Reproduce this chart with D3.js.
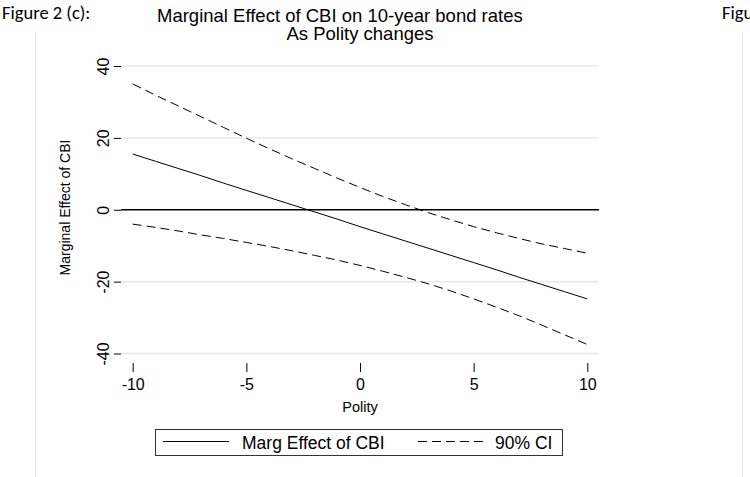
<!DOCTYPE html>
<html>
<head>
<meta charset="utf-8">
<script src="https://cdn.jsdelivr.net/npm/d3@7"></script>
<style>
  html, body { margin: 0; padding: 0; background: #fff; }
  svg { display: block; }
  text { fill: #000; }
</style>
</head>
<body>
<svg id="chart" width="750" height="477"></svg>
<script>
// Polity scores at which the marginal effect was evaluated
const polity = [-10, -9, -8, -7, -6, -5, -4, -3, -2, -1, 0, 1, 2, 3, 4, 5, 6, 7, 8, 9, 10];
// Marginal effect of CBI on 10-year bond rates
const margEffect = [15.5, 13.5, 11.5, 9.5, 7.4, 5.4, 3.4, 1.4, -0.6, -2.6, -4.7, -6.7, -8.7, -10.7, -12.7, -14.7, -16.7, -18.8, -20.8, -22.8, -24.8];
// 90% confidence bounds
const ciUpper = [35.0, 31.9, 28.9, 25.9, 22.9, 19.9, 17.0, 14.2, 11.5, 8.8, 6.2, 3.7, 1.4, -0.8, -2.8, -4.7, -6.4, -8.0, -9.5, -10.8, -12.1];
const ciLower = [-4.0, -4.9, -5.9, -7.0, -8.0, -9.1, -10.2, -11.4, -12.7, -14.0, -15.5, -17.1, -18.8, -20.6, -22.6, -24.8, -27.1, -29.5, -32.1, -34.8, -37.5];
// Axis ticks
const xTicks = [-10, -5, 0, 5, 10];
const yTicks = [-40, -20, 0, 20, 40];
const legendLabels = ["Marg Effect of CBI", "90% CI"];

const svg = d3.select("#chart");
const sans = "'Liberation Sans', Arial, Helvetica, sans-serif";
const plain = d => String(d);   // hyphen-minus, as in the printed figure

const x = d3.scaleLinear().domain([-10, 10]).range([132.7, 587.3]);
const y = d3.scaleLinear().domain([-40, 40]).range([353.5, 66]);
const plotLeft = 121, plotRight = 599;

// Page frame lines of the surrounding document
svg.append("line").attr("x1", 35.5).attr("x2", 35.5).attr("y1", 33).attr("y2", 477)
  .attr("stroke", "#e6e6e6").attr("stroke-width", 1);
svg.append("line").attr("x1", 742.5).attr("x2", 742.5).attr("y1", 33).attr("y2", 477)
  .attr("stroke", "#e6e6e6").attr("stroke-width", 1);

// Figure captions
svg.append("text").attr("x", 2).attr("y", 18.5)
  .style("font-family", "Carlito, Lato, 'Open Sans', sans-serif").style("font-size", "18.5px")
  .text("Figure 2 (c):");
svg.append("text").attr("x", 722).attr("y", 18.5)
  .style("font-family", "Carlito, Lato, 'Open Sans', sans-serif").style("font-size", "18.5px")
  .text("Figu");

// Title (first line carries Stata's trailing padding, so it sits left of centre)
const title = svg.append("g").style("font-family", sans).style("font-size", "18.5px");
title.append("text").attr("x", 157).attr("y", 22).text("Marginal Effect of CBI on 10-year bond rates");
title.append("text").attr("x", 360).attr("y", 39.5).attr("text-anchor", "middle").text("As Polity changes");

// Horizontal grid lines
svg.append("g").selectAll("line").data(yTicks.filter(d => d !== 0)).join("line")
  .attr("x1", plotLeft).attr("x2", plotRight)
  .attr("y1", d => y(d)).attr("y2", d => y(d))
  .attr("stroke", "#e8e8e8").attr("stroke-width", 1.5);

// Y axis: ticks and rotated labels
const yAxis = d3.axisLeft(y).tickValues(yTicks).tickSize(7).tickPadding(6).tickFormat(plain);
const gy = svg.append("g").attr("transform", `translate(${plotLeft},0)`).call(yAxis);
gy.select(".domain").remove();
gy.selectAll(".tick line").attr("stroke", "#000").attr("stroke-width", 1);
gy.selectAll(".tick text")
  .attr("x", null).attr("dy", null)
  .attr("transform", "translate(-12,0) rotate(-90)")
  .attr("text-anchor", "middle")
  .style("font-family", sans).style("font-size", "16px").attr("fill", "#000");

// X axis: ticks offset below the plot region
const xAxis = d3.axisBottom(x).tickValues(xTicks).tickSize(9).tickPadding(6).tickFormat(plain);
const gx = svg.append("g").attr("transform", "translate(0,363)").call(xAxis);
gx.select(".domain").remove();
gx.selectAll(".tick line").attr("stroke", "#000").attr("stroke-width", 1);
gx.selectAll(".tick text").attr("dy", null).attr("y", 27)
  .style("font-family", sans).style("font-size", "16px").attr("fill", "#000");

// Axis titles
svg.append("text").attr("x", 360).attr("y", 412).attr("text-anchor", "middle")
  .style("font-family", sans).style("font-size", "14.5px").text("Polity");
svg.append("text").attr("transform", "translate(69.5,207.5) rotate(-90)").attr("text-anchor", "middle")
  .style("font-family", sans).style("font-size", "14px").text("Marginal Effect of CBI");

// Zero reference line
svg.append("line").attr("x1", plotLeft).attr("x2", plotRight)
  .attr("y1", y(0)).attr("y2", y(0)).attr("stroke", "#000").attr("stroke-width", 1.5);

const line = (vals) => d3.line().x((d, i) => x(polity[i])).y(d => y(d))(vals);

// Confidence bounds (dashed) and marginal effect (solid)
[ciUpper, ciLower].forEach(vals => {
  svg.append("path").attr("d", line(vals)).attr("fill", "none")
    .attr("stroke", "#000").attr("stroke-width", 1).attr("stroke-dasharray", "9,5");
});
svg.append("path").attr("d", line(margEffect)).attr("fill", "none")
  .attr("stroke", "#000").attr("stroke-width", 1);

// Legend
const lg = svg.append("g");
lg.append("rect").attr("x", 155.5).attr("y", 429.5).attr("width", 407).attr("height", 26)
  .attr("fill", "#fff").attr("stroke", "#333").attr("stroke-width", 1);
lg.append("line").attr("x1", 163).attr("x2", 229).attr("y1", 441.5).attr("y2", 441.5)
  .attr("stroke", "#000").attr("stroke-width", 1);
lg.append("text").attr("x", 242).attr("y", 449)
  .style("font-family", sans).style("font-size", "17.5px").text(legendLabels[0]);
lg.append("line").attr("x1", 418).attr("x2", 484).attr("y1", 441.5).attr("y2", 441.5)
  .attr("stroke", "#000").attr("stroke-width", 1).attr("stroke-dasharray", "9,5");
lg.append("text").attr("x", 495).attr("y", 449)
  .style("font-family", sans).style("font-size", "17.5px").text(legendLabels[1]);
</script>
</body>
</html>
